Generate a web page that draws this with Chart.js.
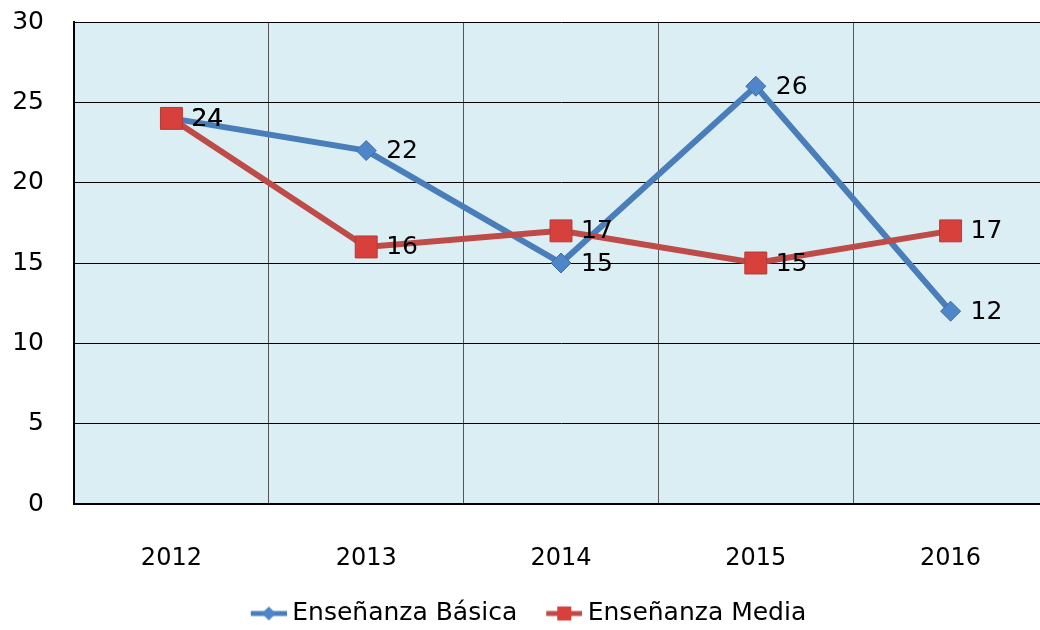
<!DOCTYPE html>
<html>
<head>
<meta charset="utf-8">
<script src="https://cdn.jsdelivr.net/npm/chart.js@4.4.1/dist/chart.umd.min.js"></script>
<style>
  html, body { margin: 0; padding: 0; background: #fff; overflow: hidden; }
  #wrap { width: 1040px; height: 630px; overflow: hidden; }
  canvas { display: block; }
</style>
</head>
<body>
<div id="wrap"><canvas id="chart" width="1048" height="636"></canvas></div>
<script>
const years = ['2012', '2013', '2014', '2015', '2016'];
const basica = [24, 22, 15, 26, 12];
const media = [24, 16, 17, 15, 17];
const yTicks = [0, 5, 10, 15, 20, 25, 30];

const FONT = '"Comic Sans MS", "DejaVu Sans", sans-serif';
const BLUE = '#4A7EBB';
const RED = '#BE4B48';

// legend icon: line with marker, blank space on the left for item spacing
function legendIcon(color, fill, shape) {
    const c = document.createElement('canvas');
    c.width = 52; c.height = 18;
    const g = c.getContext('2d');
    g.strokeStyle = color;
    g.lineWidth = 5;
    g.beginPath(); g.moveTo(16, 9); g.lineTo(52, 9); g.stroke();
    g.fillStyle = fill;
    g.beginPath();
    if (shape === 'diamond') {
        g.moveTo(34, 2); g.lineTo(41, 9); g.lineTo(34, 16); g.lineTo(27, 9);
    } else {
        g.rect(27, 2, 14, 14);
    }
    g.closePath(); g.fill();
    return c;
}

const pointLabels = {
    id: 'pointLabels',
    afterDatasetsDraw(chart) {
        const ctx = chart.ctx;
        ctx.save();
        ctx.font = '25px ' + FONT;
        ctx.fillStyle = '#000';
        ctx.textBaseline = 'middle';
        ctx.textAlign = 'left';
        chart.data.datasets.forEach((ds, i) => {
            chart.getDatasetMeta(i).data.forEach((pt, j) => {
                ctx.fillText(String(ds.data[j]), pt.x + 20, pt.y + 1);
            });
        });
        ctx.restore();
    }
};

const plotBg = {
    id: 'plotBg',
    beforeDraw(chart) {
        const a = chart.chartArea;
        chart.ctx.save();
        chart.ctx.fillStyle = '#DBEEF3';
        chart.ctx.fillRect(a.left, a.top, a.right - a.left, a.bottom - a.top);
        chart.ctx.restore();
    }
};

new Chart(document.getElementById('chart'), {
    type: 'line',
    data: {
        labels: years,
        datasets: [
            {
                label: 'Enseñanza Básica',
                data: basica,
                borderColor: BLUE,
                borderWidth: 6,
                pointStyle: 'rectRot',
                pointRadius: 10,
                pointBackgroundColor: '#4F86C9',
                pointBorderColor: '#3D6DA8',
                pointBorderWidth: 1,
                order: 2,
                tension: 0
            },
            {
                label: 'Enseñanza Media',
                data: media,
                borderColor: RED,
                borderWidth: 6,
                pointStyle: 'rect',
                pointRadius: 15.5,
                pointBackgroundColor: '#D8403C',
                pointBorderColor: '#B03A36',
                pointBorderWidth: 1,
                order: 1,
                tension: 0
            }
        ]
    },
    options: {
        responsive: false,
        animation: false,
        layout: { autoPadding: false, padding: { top: 22, left: 0, right: 0, bottom: 0 } },
        plugins: {
            tooltip: { enabled: false },
            legend: {
                position: 'bottom',
                labels: {
                    color: '#000',
                    font: { family: FONT, size: 25 },
                    usePointStyle: true,
                    pointStyleWidth: 38,
                    padding: 20,
                    generateLabels(chart) {
                        return [
                            { text: 'Enseñanza Básica', pointStyle: legendIcon(BLUE, '#4F86C9', 'diamond'), fillStyle: BLUE, strokeStyle: BLUE, lineWidth: 0, datasetIndex: 0, hidden: false },
                            { text: 'Enseñanza Media', pointStyle: legendIcon(RED, '#D8403C', 'square'), fillStyle: RED, strokeStyle: RED, lineWidth: 0, datasetIndex: 1, hidden: false }
                        ];
                    }
                }
            }
        },
        scales: {
            x: {
                offset: true,
                grid: { offset: true, color: '#555', lineWidth: 1, drawTicks: false },
                border: { color: '#000', width: 2 },
                ticks: { color: '#000', font: { family: FONT, size: 24 }, padding: 40 },
                afterFit(scale) {
                    scale.height = 77;
                    scale.paddingLeft = 0;
                    scale.paddingRight = 0;
                }
            },
            y: {
                min: 0,
                max: 30,
                afterBuildTicks(scale) { scale.ticks = yTicks.map(v => ({ value: v })); },
                grid: { color: '#000', lineWidth: 1, drawTicks: false },
                border: { color: '#000', width: 2 },
                ticks: { color: '#000', font: { family: FONT, size: 25 }, padding: 30 },
                afterFit(scale) {
                    scale.width = 74;
                    scale.paddingTop = 0;
                    scale.paddingBottom = 0;
                }
            }
        }
    },
    plugins: [plotBg, pointLabels]
});
</script>
</body>
</html>
